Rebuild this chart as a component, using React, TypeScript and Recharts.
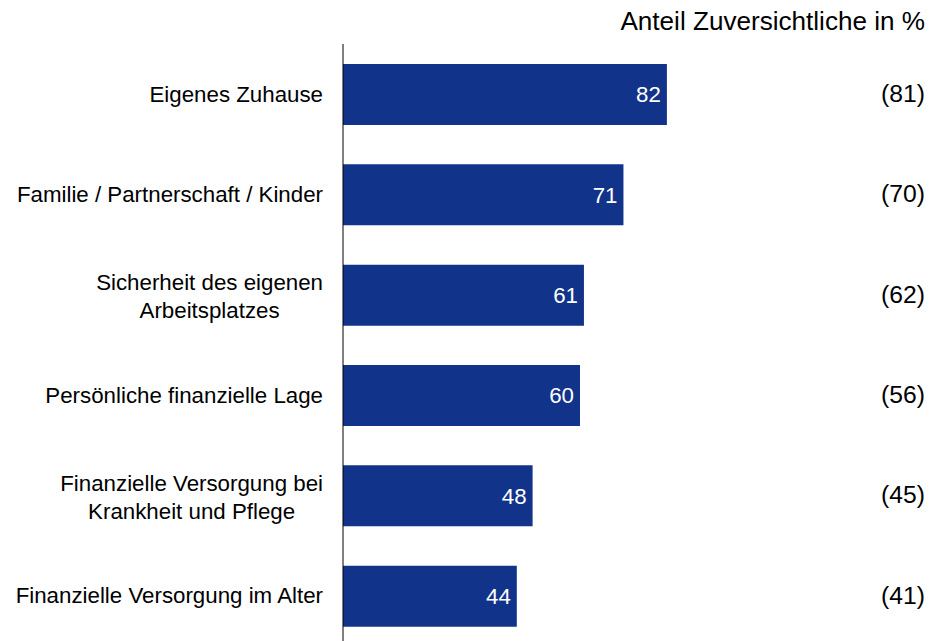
import { BarChart, Bar, XAxis, YAxis, LabelList } from 'recharts';

const categories = [
  'Eigenes Zuhause',
  'Familie / Partnerschaft / Kinder',
  'Sicherheit des eigenen\nArbeitsplatzes',
  'Persönliche finanzielle Lage',
  'Finanzielle Versorgung bei\nKrankheit und Pflege',
  'Finanzielle Versorgung im Alter',
];
const currentValues = [82, 71, 61, 60, 48, 44];
const previousValues = [81, 70, 62, 56, 45, 41];

const BAR_COLOR = '#12338a';
const FONT = '"Liberation Sans", Arial, sans-serif';
const LABEL_SIZE = 22.3;
const PREV_X = 903;

const data = categories.map((name, i) => ({
  name,
  value: currentValues[i],
  prev: previousValues[i],
}));

let ctx: CanvasRenderingContext2D | null = null;
function textWidth(s: string) {
  if (!ctx) ctx = document.createElement('canvas').getContext('2d');
  if (!ctx) return s.length * LABEL_SIZE * 0.5;
  ctx.font = `${LABEL_SIZE}px ${FONT}`;
  return ctx.measureText(s).width;
}

// multi-line labels are centred within their block, block right-aligned to the axis
function CategoryTick(props: any) {
  const { x, y, payload } = props;
  const lines = String(payload.value).split('\n');
  const lineH = 28;
  const start = -((lines.length - 1) * lineH) / 2 + (lines.length > 1 ? 2 : 0);
  const blockW = Math.max(...lines.map(textWidth));
  const cx = lines.length > 1 ? x - blockW / 2 : x;
  return (
    <text
      x={cx}
      y={y}
      textAnchor={lines.length > 1 ? 'middle' : 'end'}
      fill="#000"
      fontSize={LABEL_SIZE}
      fontFamily={FONT}
    >
      {lines.map((l, i) => (
        <tspan key={i} x={cx} y={y + start + i * lineH} dominantBaseline="central">
          {l}
        </tspan>
      ))}
    </text>
  );
}

function PrevLabel(props: any) {
  const { y, height, value } = props;
  return (
    <text
      x={PREV_X}
      y={y + height / 2 - 1}
      textAnchor="middle"
      dominantBaseline="central"
      fill="#000"
      fontSize={24.7}
      fontFamily={FONT}
    >
      ({value})
    </text>
  );
}

export default function App() {
  return (
    <div style={{ position: 'relative', width: 934, height: 641, overflow: 'hidden' }}>
      <style>{'body{margin:0}'}</style>
      <div
        style={{
          position: 'absolute',
          right: 9,
          top: 4,
          fontFamily: FONT,
          fontSize: 26.1,
          color: '#000',
          lineHeight: '34px',
          whiteSpace: 'nowrap',
        }}
      >
        Anteil Zuversichtliche in %
      </div>
      <BarChart
        width={934}
        height={650}
        data={data}
        layout="vertical"
        margin={{ top: 44, right: 196, bottom: 4, left: 0 }}
      >
        <XAxis type="number" domain={[0, 100]} hide />
        <YAxis
          type="category"
          dataKey="name"
          width={343}
          axisLine={{ stroke: '#000', strokeWidth: 1 }}
          tickLine={false}
          tickSize={0}
          tickMargin={20}
          tick={<CategoryTick />}
          interval={0}
        />
        <Bar dataKey="value" fill={BAR_COLOR} barSize={61} isAnimationActive={false}>
          <LabelList
            dataKey="value"
            position="insideRight"
            offset={6}
            fill="#fff"
            fontSize={LABEL_SIZE}
            fontFamily={FONT}
          />
          <LabelList dataKey="prev" content={<PrevLabel />} />
        </Bar>
      </BarChart>
    </div>
  );
}
